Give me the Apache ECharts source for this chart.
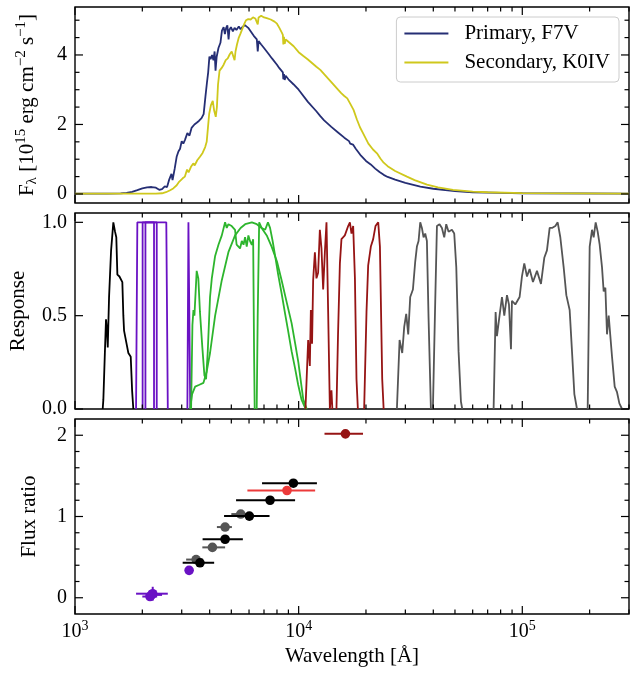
<!DOCTYPE html>
<html><head><meta charset="utf-8">
<script src="https://cdn.jsdelivr.net/npm/echarts@6/dist/echarts.min.js"></script>
<style>html,body{margin:0;padding:0;background:#fff}#c{width:638px;height:673px}</style>
</head><body><div id="c"></div>
<script>
const FONT = 'Liberation Serif';

// ---------- tick values / labels ----------
const xMajorTicks = [1000, 10000, 100000];
const xMajorExp = ['3', '4', '5'];
const xMinorTicks = [2000,3000,4000,5000,6000,7000,8000,9000,20000,30000,40000,50000,60000,70000,80000,90000,200000,300000];
const fluxMajor = [0, 2, 4];
const fluxMinor = [0.5, 1, 1.5, 2.5, 3, 3.5, 4.5, 5];
const respMajor = [0, 0.5, 1.0];
const respMinor = [];
const ratioMajor = [0, 1, 2];
const ratioMinor = [0.2, 0.4, 0.6, 0.8, 1.2, 1.4, 1.6, 1.8];

// ---------- spectra [wavelength (A), F_lambda] ----------
const primaryF7V = [[1000,0.01],[1400,0.01],[1600,0.015],[1700,0.03],[1800,0.06],[1900,0.11],[2000,0.16],[2100,0.19],[2200,0.2],[2300,0.18],[2380,0.12],[2450,0.14],[2520,0.22],[2580,0.2],[2640,0.42],[2700,0.58],[2730,0.4],[2790,0.72],[2850,1.08],[2900,1.22],[2950,1.3],[3000,1.52],[3050,1.45],[3100,1.55],[3180,1.75],[3250,1.68],[3320,1.9],[3420,2.0],[3500,2.05],[3580,2.1],[3680,2.18],[3760,2.3],[3830,2.8],[3890,3.2],[3940,3.5],[3990,3.95],[4040,3.88],[4100,4.0],[4160,3.85],[4210,4.1],[4250,3.55],[4300,3.95],[4380,4.2],[4470,4.35],[4540,4.7],[4620,4.8],[4680,4.6],[4740,4.78],[4800,4.85],[4861,4.45],[4900,4.72],[4980,4.8],[5080,4.68],[5170,4.78],[5270,4.72],[5400,4.82],[5500,4.74],[5600,4.8],[5750,4.86],[5850,4.84],[5950,4.78],[6100,4.68],[6300,4.55],[6500,4.45],[6563,4.1],[6620,4.4],[6800,4.3],[7000,4.2],[7300,4.05],[7600,3.9],[8000,3.72],[8200,3.62],[8500,3.5],[8542,3.3],[8600,3.45],[8662,3.28],[8750,3.4],[9000,3.3],[9500,3.15],[10000,3.0],[11000,2.65],[12000,2.38],[12500,2.24],[13000,2.12],[14000,1.93],[15000,1.77],[16000,1.62],[16800,1.52],[17000,1.45],[17500,1.42],[18000,1.3],[18500,1.2],[19000,1.1],[20000,0.95],[21000,0.85],[22000,0.73],[23000,0.63],[24000,0.55],[25000,0.49],[27000,0.41],[30000,0.32],[35000,0.21],[40000,0.15],[50000,0.08],[60000,0.05],[80000,0.03],[100000,0.02],[300000,0.01]];
const secondaryK0IV = [[1000,0.01],[2300,0.01],[2450,0.02],[2550,0.05],[2650,0.1],[2750,0.16],[2850,0.25],[2920,0.35],[2970,0.33],[3030,0.45],[3100,0.5],[3170,0.7],[3220,0.62],[3300,0.78],[3380,0.88],[3430,0.82],[3520,0.97],[3620,1.07],[3720,1.18],[3820,1.35],[3880,1.5],[3930,1.9],[3980,2.3],[4050,2.55],[4130,2.68],[4190,2.4],[4260,2.22],[4310,2.5],[4360,3.15],[4430,3.55],[4520,3.62],[4620,3.72],[4720,3.85],[4820,3.9],[4920,4.02],[5020,4.1],[5100,4.15],[5170,3.85],[5220,4.1],[5300,4.3],[5400,4.5],[5500,4.62],[5620,4.78],[5720,4.9],[5820,5.0],[5950,5.03],[6100,5.02],[6250,5.08],[6400,5.05],[6563,4.88],[6620,5.08],[6800,5.13],[7000,5.08],[7200,5.06],[7500,5.02],[7800,4.96],[8000,4.9],[8200,4.78],[8400,4.65],[8500,4.58],[8542,4.3],[8600,4.52],[8662,4.32],[8750,4.45],[9000,4.38],[9500,4.25],[10000,4.08],[10500,3.97],[11000,3.87],[12000,3.66],[12500,3.57],[13000,3.45],[14000,3.22],[15000,3.0],[15500,2.9],[16000,2.82],[16500,2.75],[17000,2.6],[17600,2.42],[18200,2.15],[18800,1.92],[19400,1.75],[20500,1.45],[21500,1.28],[22400,1.17],[23200,1.02],[24000,0.9],[25000,0.8],[27000,0.66],[30500,0.5],[33000,0.4],[37500,0.27],[42000,0.19],[49000,0.12],[60000,0.07],[70000,0.05],[100000,0.025],[300000,0.01]];

// ---------- filter responses [wavelength (A), response] ----------
const respFUV = [[1330,0],[1339,0.05],[1360,0.3],[1376,0.48],[1390,0.42],[1401,0.33],[1420,0.6],[1450,0.85],[1484,1.0],[1510,0.95],[1530,0.92],[1547,0.72],[1580,0.71],[1601,0.7],[1628,0.68],[1645,0.5],[1657,0.42],[1700,0.35],[1732,0.3],[1775,0.28],[1800,0.1],[1823,0]];
const respUV1 = [[1875,0],[1900,1],[2320,1],[2320,0]];
const respUV2 = [[2006,0],[2006,1],[2256,1],[2256,0]];
const respUV3 = [[2065,0],[2065,1],[2560,1],[2600,0]];
const respUV4 = [[3180,0],[3215,1],[3240,1],[3275,0]];
const respBP = [[3305,0],[3350,0.45],[3385,0.53],[3420,0.5],[3500,0.74],[3560,0.7],[3620,0.52],[3710,0.33],[3790,0.18],[3855,0.16],[3920,0.3],[4016,0.6],[4090,0.7],[4232,0.82],[4380,0.88],[4533,0.93],[4690,1.0],[4770,0.97],[4852,0.99],[5020,0.98],[5196,0.96],[5280,0.88],[5370,0.87],[5470,0.86],[5570,0.9],[5670,0.88],[5760,0.92],[5860,0.87],[5960,0.93],[6060,0.9],[6177,0.88],[6260,0.91],[6320,0.3],[6360,0]];
const respG = [[3271,0],[3340,0.08],[3445,0.12],[3600,0.13],[3753,0.14],[3880,0.2],[4016,0.3],[4232,0.5],[4533,0.69],[4852,0.84],[5196,0.93],[5500,0.97],[5766,0.99],[6177,1.0],[6500,0.99],[6830,0.97],[7200,0.93],[7570,0.87],[8000,0.79],[8390,0.69],[8850,0.57],[9300,0.46],[9650,0.35],[9970,0.25],[10250,0.14],[10490,0.05],[10870,0]];
const respRP = [[6493,0],[6560,0.5],[6660,1.0],[6830,0.97],[7085,0.96],[7290,1.0],[7450,0.97],[7650,0.9],[7850,0.82],[8100,0.72],[8390,0.62],[8700,0.51],[8970,0.42],[9300,0.31],[9630,0.22],[9950,0.13],[10300,0.05],[10740,0]];
const respJ = [[10726,0],[11030,0.37],[11220,0.23],[11340,0.53],[11480,0.35],[11610,0.69],[11820,0.84],[12010,0.7],[12220,0.73],[12440,0.96],[12650,0.86],[12870,0.64],[13100,0.84],[13320,1.0],[13550,0.52],[13790,0],[13900,0],[14020,0.1],[14150,0]];
const respH = [[14760,0],[15000,0.4],[15290,0.78],[15540,0.91],[16090,0.93],[16650,0.98],[16950,1.0],[17230,0.94],[17530,0.98],[17850,0.7],[18140,0.16],[18400,0]];
const respK = [[19630,0],[20110,0.52],[20460,0.77],[21030,0.87],[21540,0.91],[22060,0.98],[22690,1.0],[23090,0.87],[23640,0.16],[23990,0]];
const respW1 = [[27500,0],[28270,0.37],[28660,0.38],[29050,0.3],[29650,0.44],[30270,0.51],[30900,0.4],[31540,0.6],[32430,0.64],[33210,0.79],[33790,0.87],[34370,0.9],[34970,1.0],[35570,0.97],[36190,0.92],[36810,0.94],[37450,0.9],[38090,0.49],[39030,0]];
const respW2 = [[39840,0],[40810,0.58],[41530,0.98],[42660,0.99],[43710,0.97],[44770,0.92],[45700,0.99],[46820,0.95],[48450,0.96],[49620,0.94],[50680,0.76],[51880,0.31],[53170,0.04],[53900,0]];
const respW3 = [[74420,0],[75980,0.52],[77040,0.39],[78910,0.49],[81120,0.6],[83080,0.5],[85410,0.61],[87180,0.56],[89000,0.32],[89900,0.58],[93050,0.56],[97270,0.6],[99660,0.71],[102070,0.78],[104950,0.71],[107820,0.75],[111600,0.68],[116330,0.74],[121190,0.67],[125410,0.81],[128900,0.85],[132540,0.97],[135780,0.97],[140550,0.98],[143950,1.0],[147910,0.92],[153080,0.76],[157370,0.61],[162840,0.53],[166800,0.31],[170900,0.08],[175620,0]];
const respW4 = [[196040,0],[200120,0.87],[205000,0.96],[208500,0.92],[212880,1.0],[217300,0.95],[221800,0.88],[227200,0.76],[231100,0.63],[235200,0.65],[239200,0.4],[243400,0.5],[251900,0.28],[258900,0.12],[265200,0.09],[271700,0.03],[279200,0]];

// ---------- flux ratios [wavelength, ratio, lambda_lo, lambda_hi, ratio_err] ----------
const ratioGrey = [[3480,0.47,3140,3740,0],[4115,0.62,3710,4690,0],[4690,0.87,4310,5030,0],[5510,1.03,5000,6100,0]];
const ratioBlack = [[3620,0.43,3030,4190,0],[4690,0.72,3720,5630,0],[6020,1.005,4640,7410,0],[7450,1.20,5250,9640,0],[9470,1.41,6860,12070,0]];
const ratioRed = [[8870,1.32,5900,11850,0]];
const ratioDarkRed = [[16190,2.017,13050,19400,0]];
const ratioPurple = [[2165,0.015,2000,2330,0],[2226,0.05,1875,2600,0.085],[2200,0.035,2070,2450,0],[3238,0.337,3238,3238,0]];

const C = {navy:'#252e74', yellow:'#cfc81c', black:'#000000', purple:'#6a12c4', green:'#2db52d', dred:'#961414', grey:'#555555', red:'#ec3a3a'};

const grids = [
  {left:75, right:9, top:7, height:196},
  {left:75, right:9, top:213, height:196},
  {left:75, right:9, top:419, height:195}
].map(g => Object.assign(g, {show:true, borderColor:'#000', borderWidth:1.4, backgroundColor:'rgba(0,0,0,0)', outerBoundsMode:'none', containLabel:false}));

const yRanges = [[-0.26, 5.38], [0, 1.05], [-0.2, 2.2]];
const yMajors = [fluxMajor, respMajor, ratioMajor];
const yMinors = [fluxMinor, respMinor, ratioMinor];
const yFmt = [v => String(Math.round(v)), v => v.toFixed(1), v => String(Math.round(v))];
const yNames = ['F{sub|λ} [10{sup|15} erg cm{sup|−2} s{sup|−1}]', 'Response', 'Flux ratio'];
const yNameGaps = [35, 31, 33];

function expLabel(v) {
  for (let i = 0; i < xMajorTicks.length; i++) {
    if (Math.abs(v - xMajorTicks[i]) / xMajorTicks[i] < 1e-6) return '10{s|' + xMajorExp[i] + '}';
  }
  return '';
}

const xAxis = [0,1,2].map(i => ({
  type:'log', logBase:10, gridIndex:i, min:1000, max:300000,
  axisLine:{show:false}, axisTick:{show:false}, splitLine:{show:false},
  axisLabel: i === 2 ? {show:true, formatter:expLabel, margin:5, color:'#000', fontFamily:FONT, fontSize:20, lineHeight:26,
    rich:{s:{fontSize:14, fontFamily:FONT, color:'#000', verticalAlign:'top', lineHeight:14}}} : {show:false},
  name: i === 2 ? 'Wavelength [Å]' : '', nameLocation:'middle', nameGap:32,
  nameTextStyle:{fontFamily:FONT, fontSize:21, color:'#000'}
}));

const yAxis = [0,1,2].map(i => ({
  type:'value', gridIndex:i, min:yRanges[i][0], max:yRanges[i][1],
  axisLine:{show:false}, axisTick:{show:false}, splitLine:{show:false},
  axisLabel:{show:true, customValues:yMajors[i], formatter:yFmt[i], margin:8, color:'#000', fontFamily:FONT, fontSize:20},
  name:yNames[i], nameLocation:'middle', nameRotate:90, nameGap: yNameGaps[i],
  nameTextStyle:{fontFamily:FONT, fontSize:21, color:'#000', lineHeight:26,
    rich:{sub:{fontSize:15, fontFamily:FONT, color:'#000', verticalAlign:'bottom', lineHeight:15},
          sup:{fontSize:15, fontFamily:FONT, color:'#000', verticalAlign:'top', lineHeight:15}}}
}));

// tick data: [x, y, kind(0=x,1=y), major]
function tickData(i) {
  const y0 = (yRanges[i][0] + yRanges[i][1]) / 2;
  const d = [];
  xMajorTicks.forEach(v => d.push([v, y0, 0, 1]));
  xMinorTicks.forEach(v => d.push([v, y0, 0, 0]));
  yMajors[i].forEach(v => d.push([2000, v, 1, 1]));
  yMinors[i].forEach(v => d.push([2000, v, 1, 0]));
  return d;
}
function renderTick(params, api) {
  const cs = params.coordSys;
  const len = api.value(3) ? 8 : 4.5;
  const st = {stroke:'#000', lineWidth:1.2};
  const p = api.coord([api.value(0), api.value(1)]);
  if (api.value(2) === 0) {
    return {type:'group', children:[
      {type:'line', shape:{x1:p[0], y1:cs.y, x2:p[0], y2:cs.y + len}, style:st},
      {type:'line', shape:{x1:p[0], y1:cs.y + cs.height, x2:p[0], y2:cs.y + cs.height - len}, style:st}
    ]};
  }
  return {type:'group', children:[
    {type:'line', shape:{x1:cs.x, y1:p[1], x2:cs.x + len, y2:p[1]}, style:st},
    {type:'line', shape:{x1:cs.x + cs.width, y1:p[1], x2:cs.x + cs.width - len, y2:p[1]}, style:st}
  ]};
}

function renderErr(params, api) {
  const lam = api.value(0), val = api.value(1), lo = api.value(2), hi = api.value(3), ye = api.value(4);
  const color = api.visual('color');
  const c = api.coord([lam, val]);
  const l = api.coord([lo, val]);
  const h = api.coord([hi, val]);
  const st = {stroke:color, lineWidth:2};
  const ch = [];
  if (hi > lo) ch.push({type:'line', shape:{x1:l[0], y1:c[1], x2:h[0], y2:c[1]}, style:st});
  if (ye > 0) {
    const t = api.coord([lam, val + ye]), b = api.coord([lam, val - ye]);
    ch.push({type:'line', shape:{x1:c[0], y1:t[1], x2:c[0], y2:b[1]}, style:st});
  }
  ch.push({type:'circle', shape:{cx:c[0], cy:c[1], r:4.8}, style:{fill:color}});
  return {type:'group', children:ch};
}

function lineS(name, data, color, gi, w) {
  return {type:'line', name:name, data:data, xAxisIndex:gi, yAxisIndex:gi, showSymbol:false, symbol:'none',
    lineStyle:{color:color, width:w || 1.8}, itemStyle:{color:color}, animation:false, silent:true};
}
function errS(data, color) {
  return {type:'custom', data:data, xAxisIndex:2, yAxisIndex:2, renderItem:renderErr, itemStyle:{color:color},
    encode:{x:0, y:1}, silent:true, animation:false, clip:true};
}

const series = [
  lineS('Primary, F7V', primaryF7V, C.navy, 0, 1.8),
  lineS('Secondary, K0IV', secondaryK0IV, C.yellow, 0, 1.8),
  lineS('FUV', respFUV, C.black, 1),
  lineS('UV1', respUV1, C.purple, 1),
  lineS('UV2', respUV2, C.purple, 1),
  lineS('UV3', respUV3, C.purple, 1),
  lineS('UV4', respUV4, C.purple, 1),
  lineS('BP', respBP, C.green, 1),
  lineS('G', respG, C.green, 1),
  lineS('RP', respRP, C.green, 1),
  lineS('J', respJ, C.dred, 1),
  lineS('H', respH, C.dred, 1),
  lineS('K', respK, C.dred, 1),
  lineS('W1', respW1, C.grey, 1),
  lineS('W2', respW2, C.grey, 1),
  lineS('W3', respW3, C.grey, 1),
  lineS('W4', respW4, C.grey, 1),
  errS(ratioGrey, C.grey),
  errS(ratioBlack, C.black),
  errS(ratioRed, C.red),
  errS(ratioDarkRed, C.dred),
  errS(ratioPurple, C.purple)
];
[0,1,2].forEach(i => series.push({type:'custom', data:tickData(i), xAxisIndex:i, yAxisIndex:i, renderItem:renderTick,
  encode:{x:0, y:1}, silent:true, animation:false, z:20, clip:false}));

const chart = echarts.init(document.getElementById('c'));
chart.setOption({
  animation:false,
  backgroundColor:'#ffffff',
  grid:grids, xAxis:xAxis, yAxis:yAxis,
  legend:{data:['Primary, F7V','Secondary, K0IV'], orient:'vertical', right:19, top:17,
    icon:'rect', itemWidth:44, itemHeight:2, itemGap:8,
    padding:[6, 9, 9, 8], borderColor:'#cccccc', borderWidth:1, borderRadius:4, backgroundColor:'rgba(255,255,255,0.8)',
    textStyle:{fontFamily:FONT, fontSize:21, color:'#000', padding:[0,0,0,11]}, selectedMode:false},
  series:series
});
</script></body></html>
